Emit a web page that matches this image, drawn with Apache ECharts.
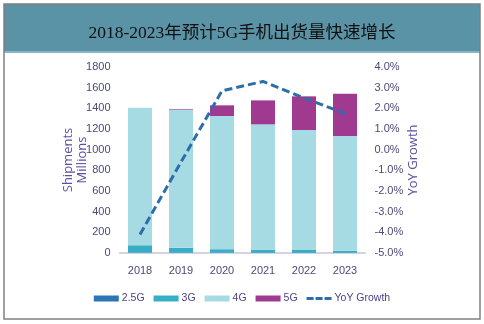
<!DOCTYPE html>
<html>
<head>
<meta charset="utf-8">
<script src="https://cdn.jsdelivr.net/npm/echarts@6/dist/echarts.min.js"></script>
<style>
  html, body { margin: 0; padding: 0; background: #ffffff; }
  #chart { width: 484px; height: 324px; }
</style>
</head>
<body>
<div id="chart"></div>
<script>
// Shipments by network generation (millions) and year-on-year growth (%)
const years = ['2018', '2019', '2020', '2021', '2022', '2023'];
const ship25G = [3, 2, 2, 1, 1, 1];
const ship3G = [72, 48, 35, 31, 28, 21];
const ship4G = [1330, 1338, 1289, 1213, 1161, 1110];
const ship5G = [0, 6, 103, 232, 326, 410];
const yoyGrowth = [-4.1, -0.6, 2.85, 3.3, 2.5, 1.75];

const titleText = '2018-2023年预计5G手机出货量快速增长';
const tickFont = '"Liberation Sans Narrow", "Arial Narrow", "Liberation Sans", sans-serif';
const tickColor = '#4b4a78';
const nameColor = '#5e4fa2';
const lineColor = '#2c6ea9';

const chart = echarts.init(document.getElementById('chart'), null, { renderer: 'canvas' });

const barSeries = (name, data, color) => ({
  name, type: 'bar', stack: 'ship', data,
  barWidth: 24, itemStyle: { color }, yAxisIndex: 0
});

chart.setOption({
  animation: false,
  backgroundColor: '#ffffff',
  graphic: [
    // header band
    { type: 'rect', z: -1, shape: { x: 4, y: 4, width: 476, height: 48 }, style: { fill: '#5b93a6' } },
    { type: 'rect', z: -1, shape: { x: 4, y: 51, width: 476, height: 2 }, style: { fill: '#86b7c8' } },
    // outer frame
    { type: 'rect', z: 10, shape: { x: 4, y: 4, width: 476, height: 315 },
      style: { fill: 'none', stroke: '#808080', lineWidth: 1.5 } }
  ],
  title: {
    text: titleText,
    left: 'center', top: 20,
    textStyle: { fontFamily: '"Liberation Serif", "Noto Sans CJK SC", serif', fontSize: 17.5, fontWeight: 'normal', color: '#111111' }
  },
  legend: {
    bottom: 15, left: 'center',
    itemWidth: 25, itemHeight: 6, itemGap: 9,
    textStyle: { fontFamily: tickFont, fontSize: 10.5, color: '#4b3f8a', padding: [0, 0, 0, -2] },
    data: [
      { name: '2.5G', icon: 'rect' },
      { name: '3G', icon: 'rect' },
      { name: '4G', icon: 'rect' },
      { name: '5G', icon: 'rect' },
      { name: 'YoY Growth', icon: 'path://M0,0h7v3h-7z M9,0h7v3h-7z M18,0h7v3h-7z',
        itemStyle: { color: lineColor } }
    ]
  },
  grid: { left: 119.5, right: 118.5, top: 67, bottom: 71 },
  xAxis: {
    type: 'category', data: years,
    axisLine: { lineStyle: { color: '#c6c6d6', width: 1.5 } },
    axisTick: { show: false },
    axisLabel: { fontFamily: tickFont, fontSize: 11, color: tickColor, margin: 12 }
  },
  yAxis: [
    {
      type: 'value', min: 0, max: 1800, interval: 200,
      name: 'Shipments\nMillions', nameLocation: 'middle', nameGap: 30, nameRotate: 90,
      nameMoveOverlap: false,
      nameTextStyle: { fontFamily: '"Open Sans", "Liberation Sans", sans-serif', fontSize: 13, color: nameColor, lineHeight: 14 },
      splitLine: { show: false }, axisLine: { show: false }, axisTick: { show: false },
      axisLabel: { fontFamily: tickFont, fontSize: 11, color: tickColor, margin: 9,
        formatter: v => String(v) }
    },
    {
      type: 'value', min: -5, max: 4, interval: 1,
      name: 'YoY Growth', nameLocation: 'middle', nameGap: 41, nameRotate: 90,
      nameMoveOverlap: false,
      nameTextStyle: { fontFamily: '"Open Sans", "Liberation Sans", sans-serif', fontSize: 13, color: nameColor },
      splitLine: { show: false }, axisLine: { show: false }, axisTick: { show: false },
      axisLabel: { fontFamily: tickFont, fontSize: 11, color: tickColor, margin: 9,
        formatter: v => v.toFixed(1) + '%' }
    }
  ],
  series: [
    barSeries('2.5G', ship25G, '#2a76b6'),
    barSeries('3G', ship3G, '#38aec6'),
    barSeries('4G', ship4G, '#a6dbe4'),
    barSeries('5G', ship5G, '#a03a90'),
    {
      name: 'YoY Growth', type: 'line', yAxisIndex: 1, data: yoyGrowth,
      symbol: 'none', z: 5,
      lineStyle: { color: lineColor, width: 3, type: [8, 4] },
      itemStyle: { color: lineColor }
    }
  ]
});
</script>
</body>
</html>
